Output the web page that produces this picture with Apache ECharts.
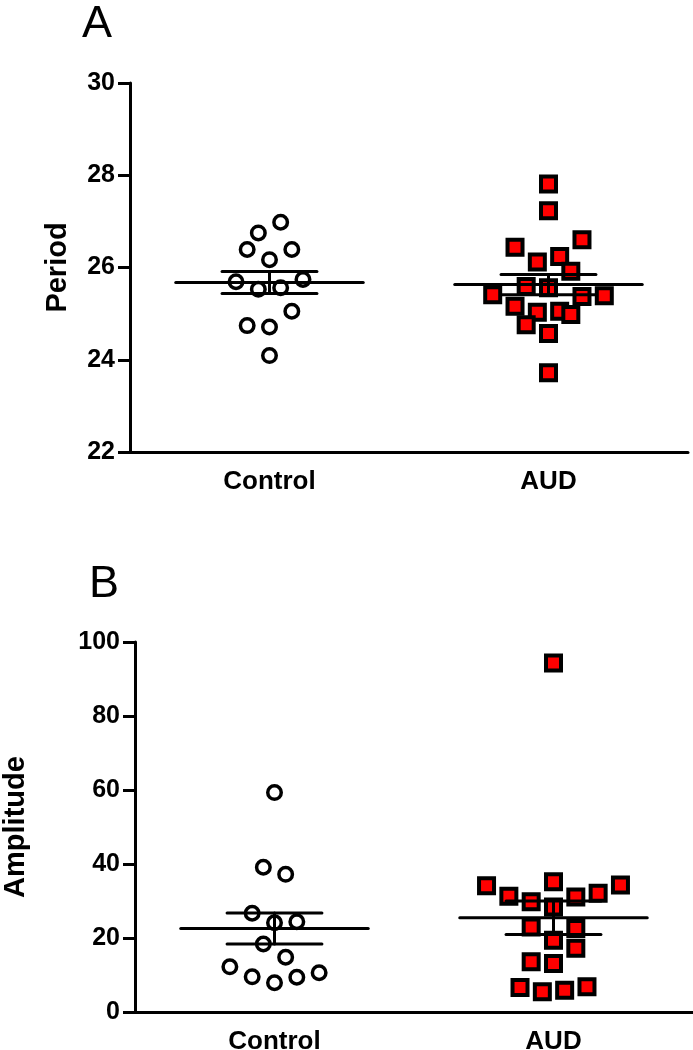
<!DOCTYPE html>
<html>
<head>
<meta charset="utf-8">
<style>
  html, body { margin: 0; padding: 0; background: #fff; }
  #chart { width: 693px; height: 1050px; }
</style>
<script src="https://cdn.jsdelivr.net/npm/echarts@6/dist/echarts.min.js"></script>
</head>
<body>
<div id="chart"></div>
<script>
// ---------- data ----------
const categories = ['Control', 'AUD'];

// Panel A: Period
const periodControl = [26.98, 26.75, 26.39, 26.39, 26.17, 25.69, 25.74, 25.53, 25.56, 25.05, 24.74, 24.71, 24.09];
const periodControlJitter = [0.04, -0.04, -0.08, 0.08, 0, -0.12, 0.12, -0.04, 0.04, 0.08, -0.08, 0, 0];
const periodAUD = [27.81, 27.23, 26.60, 26.44, 26.24, 26.12, 25.92, 25.59, 25.56, 25.41, 25.37, 25.39, 25.16, 25.03, 25.05, 24.98, 24.76, 24.57, 23.72];
const periodAUDJitter = [0, 0, 0.12, -0.12, 0.04, -0.04, 0.08, -0.08, 0, -0.20, 0.12, 0.20, -0.12, -0.04, 0.04, 0.08, -0.08, 0, 0];

// Panel B: Amplitude
const ampControl = [59.3, 39.1, 37.2, 26.7, 24.1, 24.4, 18.4, 14.8, 12.2, 9.5, 7.9, 9.4, 10.6];
const ampControlJitter = [0, -0.04, 0.04, -0.08, 0, 0.08, -0.04, 0.04, -0.16, -0.08, 0, 0.08, 0.16];
const ampAUD = [94.3, 34.1, 35.2, 34.3, 31.3, 32.1, 31.1, 29.8, 28.4, 23.0, 22.6, 19.4, 17.2, 13.6, 13.1, 6.6, 5.5, 5.9, 6.8];
const ampAUDJitter = [0, -0.24, 0, 0.24, -0.16, 0.16, 0.08, -0.08, 0, -0.08, 0.08, 0, 0.08, -0.08, 0, -0.12, -0.04, 0.04, 0.12];

// axis ticks
const periodTicks = { min: 22, max: 30, interval: 2 };
const ampTicks = { min: 0, max: 100, interval: 20 };

// ---------- helpers ----------
function meanSem(arr) {
  const n = arr.length;
  const m = arr.reduce((a, b) => a + b, 0) / n;
  const v = arr.reduce((a, b) => a + (b - m) * (b - m), 0) / (n - 1);
  return [m, Math.sqrt(v) / Math.sqrt(n)];
}
function pts(catIdx, vals, jit) {
  return vals.map((v, i) => [catIdx + jit[i], v]);
}

const FONT = '"Liberation Sans", Arial, Helvetica, sans-serif';

function catAxis(grid) {
  return {
    gridIndex: grid, type: 'category', data: categories, boundaryGap: true,
    axisLine: { onZero: false, lineStyle: { color: '#000', width: 3 } },
    axisTick: { alignWithLabel: true, length: 11, lineStyle: { color: '#000', width: 3 } },
    axisLabel: { color: '#000', fontFamily: FONT, fontWeight: 'bold', fontSize: 26, margin: 17 },
    splitLine: { show: false }
  };
}
function valXAxis(grid) {
  return { gridIndex: grid, type: 'value', min: -0.5, max: 1.5, show: false };
}
function yAx(grid, t, name, gap) {
  return {
    gridIndex: grid, type: 'value', min: t.min, max: t.max, interval: t.interval,
    name: name, nameLocation: 'middle', nameRotate: 90, nameGap: gap,
    nameTextStyle: { color: '#000', fontFamily: FONT, fontWeight: 'bold', fontSize: 29 },
    axisLine: { show: true, onZero: false, lineStyle: { color: '#000', width: 3 } },
    axisTick: { show: true, length: 12, lineStyle: { color: '#000', width: 3 } },
    axisLabel: { color: '#000', fontFamily: FONT, fontWeight: 'bold', fontSize: 25, margin: 15 },
    splitLine: { show: false }
  };
}

const circleStyle = { color: 'rgba(255,255,255,0)', borderColor: '#000', borderWidth: 3.5, opacity: 1 };
const squareStyle = { color: '#ff0000', borderColor: '#000', borderWidth: 4, opacity: 1 };

function scatter(xi, yi, data, sym) {
  return {
    type: 'scatter', xAxisIndex: xi, yAxisIndex: yi, data: data,
    symbol: sym === 'circle' ? 'circle' : 'rect',
    symbolSize: sym === 'circle' ? 13.5 : 15,
    itemStyle: sym === 'circle' ? circleStyle : squareStyle,
    z: 2, silent: true
  };
}

function statSeries(xi, yi, groups) {
  const data = groups.map((g, i) => { const ms = meanSem(g); return [i, ms[0], ms[1]]; });
  return {
    type: 'custom', xAxisIndex: xi, yAxisIndex: yi, z: 5, silent: true,
    encode: { x: 0, y: 1 },
    data: data,
    renderItem: function (params, api) {
      const x = api.value(0), m = api.value(1), s = api.value(2);
      const st = { stroke: '#000', lineWidth: 3, lineCap: 'round' };
      function seg(x1, y1, x2, y2) {
        const a = api.coord([x1, y1]), b = api.coord([x2, y2]);
        return { type: 'line', shape: { x1: a[0], y1: a[1], x2: b[0], y2: b[1] }, style: st };
      }
      return {
        type: 'group',
        children: [
          seg(x - 0.336, m, x + 0.336, m),
          seg(x - 0.17, m + s, x + 0.17, m + s),
          seg(x - 0.17, m - s, x + 0.17, m - s),
          seg(x, m - s, x, m + s)
        ]
      };
    }
  };
}

const option = {
  animation: false,
  backgroundColor: '#fff',
  grid: [
    { left: 130, top: 83, width: 558, height: 369, outerBoundsMode: 'none', containLabel: false },
    { left: 135, top: 642, width: 558, height: 370, outerBoundsMode: 'none', containLabel: false }
  ],
  xAxis: [catAxis(0), valXAxis(0), catAxis(1), valXAxis(1)],
  yAxis: [yAx(0, periodTicks, 'Period', 58), yAx(1, ampTicks, 'Amplitude', 105)],
  graphic: [
    { type: 'text', left: 82, top: 2, style: { text: 'A', font: 'normal 45px ' + FONT, fill: '#000' } },
    { type: 'text', left: 89, top: 562, style: { text: 'B', font: 'normal 45px ' + FONT, fill: '#000' } }
  ],
  series: [
    scatter(1, 0, pts(0, periodControl, periodControlJitter), 'circle'),
    scatter(1, 0, pts(1, periodAUD, periodAUDJitter), 'square'),
    statSeries(1, 0, [periodControl, periodAUD]),
    scatter(3, 1, pts(0, ampControl, ampControlJitter), 'circle'),
    scatter(3, 1, pts(1, ampAUD, ampAUDJitter), 'square'),
    statSeries(3, 1, [ampControl, ampAUD])
  ]
};

const chart = echarts.init(document.getElementById('chart'), null, { renderer: 'canvas' });
chart.setOption(option);
</script>
</body>
</html>
